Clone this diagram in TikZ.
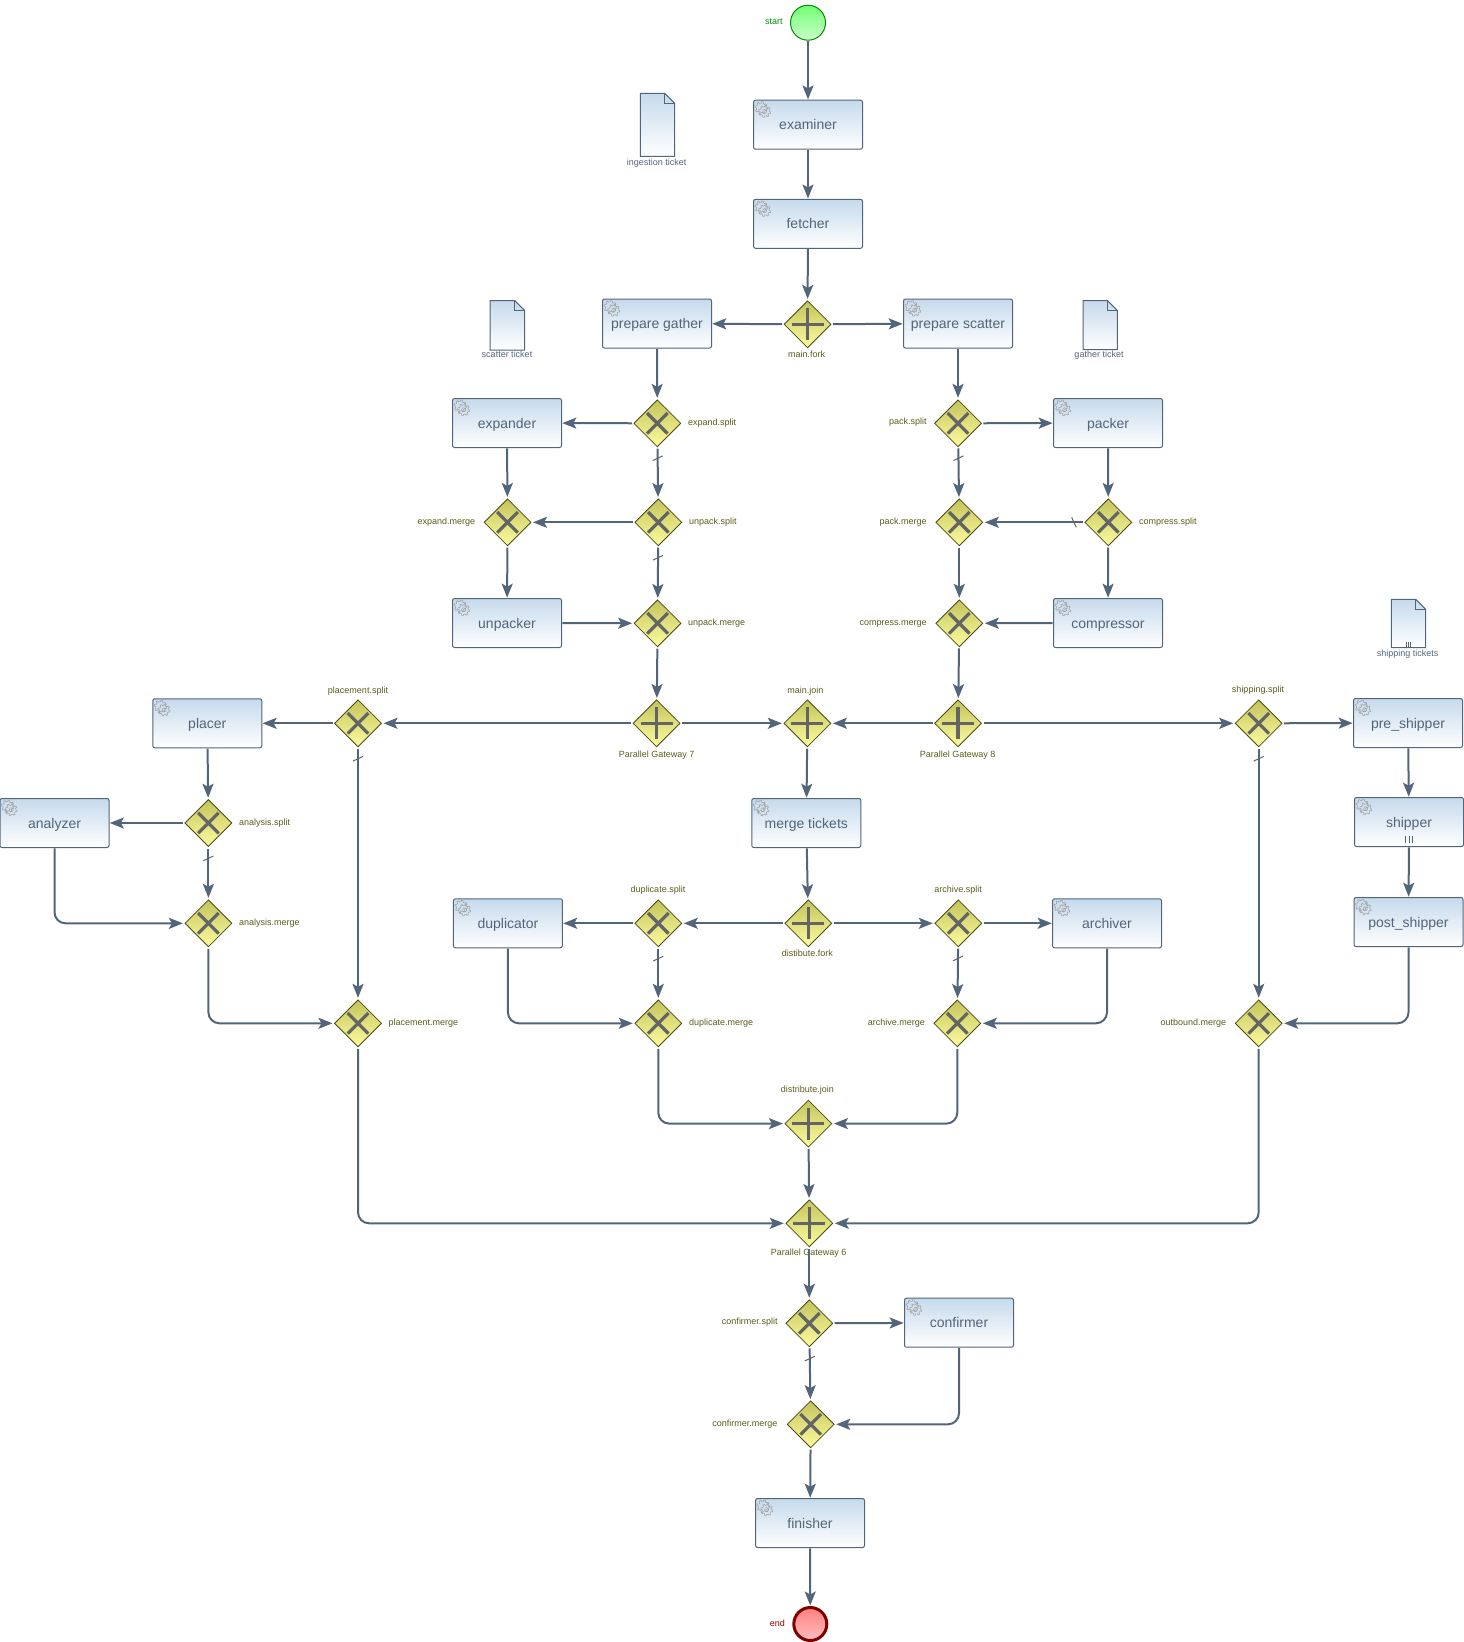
\documentclass[tikz,border=0pt]{standalone}
\usepackage{fontspec}
\setmainfont{Liberation Sans}
\usetikzlibrary{arrows.meta,shapes.geometric}
\definecolor{flowcol}{RGB}{82,101,122}
\definecolor{tasktop}{RGB}{198,218,236}
\definecolor{gatetop}{RGB}{196,196,92}
\definecolor{gatebot}{RGB}{252,252,160}
\definecolor{gateline}{RGB}{74,74,20}
\definecolor{gatemarkcol}{RGB}{100,100,100}
\definecolor{labelcol}{RGB}{92,92,28}
\tikzset{
  flow/.style={draw=flowcol,line width=2pt,rounded corners=11pt,-{Stealth[length=14pt,width=11pt,inset=3pt]}},
  tasknode/.style={rectangle,draw=flowcol,line width=1pt,rounded corners=2pt,top color=tasktop,bottom color=white,
    minimum width=109pt,minimum height=49pt,inner sep=0pt,outer sep=.8pt,text=flowcol,
    text height=10pt,text depth=0pt,font=\fontsize{14}{16}\selectfont},
  gateway/.style={diamond,aspect=1,draw=gateline,line width=.8pt,top color=gatetop,bottom color=gatebot,
    minimum size=48pt,inner sep=0pt,outer sep=1.5pt},
  xgate/.style={gateway,path picture={\draw[gatemarkcol,line width=3.2pt]
    (path picture bounding box.center) +(-10.3,-10.3) -- +(10.3,10.3) +(-10.3,10.3) -- +(10.3,-10.3);}},
  pgate/.style={gateway,path picture={\draw[gatemarkcol,line width=3.2pt]
    (path picture bounding box.center) +(-16,0) -- +(16,0) +(0,-16) -- +(0,16);}},
  gatelabel/.style={text=labelcol,inner sep=0pt,text height=6.4pt,text depth=0pt,font=\fontsize{9}{10}\selectfont},
  doclabel/.style={text=flowcol,inner sep=0pt,text height=6.4pt,text depth=0pt,font=\fontsize{9}{10}\selectfont},
  docshape/.style={draw=flowcol,line width=1pt,top color=tasktop,bottom color=white},
  deftick/.style={-,sharp corners,draw=gatemarkcol,line width=1pt,minimum width=11pt,minimum height=0pt,inner sep=0pt,outer sep=0pt,rotate=25},
  gearline/.style={draw=gray!75,line width=.5pt},
  startnode/.style={circle,draw=green!55!black,line width=1pt,top color=green!55!white,bottom color=green!20!white,
    minimum size=35pt,inner sep=0pt,outer sep=1pt},
  endnode/.style={circle,draw=red!50!black,line width=3pt,top color=red!50!white,bottom color=red!25!white,
    minimum size=33pt,inner sep=0pt,outer sep=2pt},
  gearicon/.pic={
    \draw[gearline] plot[domain=0:360,samples=73] ({-2+(4.8+1.4*(sin(8*\x)>0))*cos(\x)},{-2+(4.8+1.4*(sin(8*\x)>0))*sin(\x)});
    \draw[gearline] plot[domain=0:360,samples=73] ({1.5+(4.6+1.4*(sin(8*\x)>0))*cos(\x)},{1.5+(4.6+1.4*(sin(8*\x)>0))*sin(\x)});
    \draw[gearline] (1.5,1.5) circle (2);
  }
}
\newcommand{\gearat}[1]{\pic at ([shift={(10.5,10.5)}]#1.north west) {gearicon};}
\begin{document}
\begin{tikzpicture}[x=1pt,y=-1pt]
\useasboundingbox (0,0) rectangle (1464,1642);

\node[startnode] (start) at (808,22.7) {};
\node[endnode] (end) at (810.3,1624) {};
\node[gatelabel,text=green!55!black,anchor=east] (startlabel) at (782.7,21.7) {start};
\node[gatelabel,text=red!60!black,anchor=east] (endlabel) at (785,1623.7) {end};

\node[tasknode] (examiner) at (808,124.7) {examiner};
\node[tasknode] (fetcher) at (808,223.8) {fetcher};
\node[tasknode] (prepgather) at (657,323.5) {prepare gather};
\node[tasknode] (prepscatter) at (958,323.5) {prepare scatter};
\node[tasknode] (expander) at (507,423) {expander};
\node[tasknode] (packer) at (1108,423) {packer};
\node[tasknode] (unpacker) at (507,623) {unpacker};
\node[tasknode] (compressor) at (1108,623) {compressor};
\node[tasknode] (placer) at (207.3,723.3) {placer};
\node[tasknode] (analyzer) at (54.5,823) {analyzer};
\node[tasknode] (mergetickets) at (806.3,823) {merge tickets};
\node[tasknode] (duplicator) at (507.9,923.3) {duplicator};
\node[tasknode] (archiver) at (1107,923.3) {archiver};
\node[tasknode] (preshipper) at (1408,723) {pre\_shipper};
\node[tasknode] (shipper) at (1409,822) {shipper};
\node[tasknode] (postshipper) at (1408.5,922) {post\_shipper};
\node[tasknode] (confirmer) at (959,1322.7) {confirmer};
\node[tasknode] (finisher) at (810,1523) {finisher};

\gearat{examiner}
\gearat{fetcher}
\gearat{prepgather}
\gearat{prepscatter}
\gearat{expander}
\gearat{packer}
\gearat{unpacker}
\gearat{compressor}
\gearat{placer}
\gearat{analyzer}
\gearat{mergetickets}
\gearat{duplicator}
\gearat{archiver}
\gearat{preshipper}
\gearat{shipper}
\gearat{postshipper}
\gearat{confirmer}
\gearat{finisher}

\draw[flowcol,line width=.7pt] (1405.7,836) -- (1405.7,843.3) (1409,836) -- (1409,843.3) (1412.3,836) -- (1412.3,843.3);

\node[pgate] (mainfork) at (807.5,324.3) {};
\node[xgate] (expandsplit) at (657.3,423.3) {};
\node[xgate] (packsplit) at (958,423.3) {};
\node[xgate] (unpacksplit) at (658.3,522.3) {};
\node[xgate] (expandmerge) at (507.5,522.3) {};
\node[xgate] (packmerge) at (959.3,522.3) {};
\node[xgate] (compresssplit) at (1108.3,522.3) {};
\node[xgate] (unpackmerge) at (657.6,623.3) {};
\node[xgate] (compressmerge) at (959.3,623.3) {};
\node[pgate] (gateseven) at (656.6,723.3) {};
\node[pgate] (mainjoin) at (807.4,723.3) {};
\node[pgate] (gateeight) at (958,723.3) {};
\node[xgate] (placementsplit) at (358,723.3) {};
\node[xgate] (shippingsplit) at (1258.7,723.3) {};
\node[xgate] (analysissplit) at (208.4,823) {};
\node[xgate] (analysismerge) at (208.4,923.3) {};
\node[xgate] (duplicatesplit) at (658.3,923.3) {};
\node[pgate] (distfork) at (808.3,923.3) {};
\node[xgate] (archivesplit) at (958.3,923.3) {};
\node[xgate] (placementmerge) at (358,1023.3) {};
\node[xgate] (duplicatemerge) at (658.3,1023.3) {};
\node[xgate] (archivemerge) at (957.3,1023.3) {};
\node[xgate] (outboundmerge) at (1258.7,1023.3) {};
\node[pgate] (distjoin) at (808.4,1123.6) {};
\node[pgate] (gatesix) at (809.3,1223.3) {};
\node[xgate] (confirmersplit) at (809.3,1323.3) {};
\node[xgate] (confirmermerge) at (810.7,1424.3) {};

\node[gatelabel] (mainforklabel) at (806.7,354.5) {main.fork};
\node[gatelabel,anchor=west] (expandsplitlabel) at (688,422) {expand.split};
\node[gatelabel,anchor=east] (packsplitlabel) at (926.8,421.7) {pack.split};
\node[gatelabel,anchor=west] (unpacksplitlabel) at (689,521) {unpack.split};
\node[gatelabel,anchor=east] (expandmergelabel) at (475.4,521) {expand.merge};
\node[gatelabel,anchor=east] (packmergelabel) at (926.8,521) {pack.merge};
\node[gatelabel,anchor=west] (compresssplitlabel) at (1139,521) {compress.split};
\node[gatelabel,anchor=west] (unpackmergelabel) at (688,622) {unpack.merge};
\node[gatelabel,anchor=east] (compressmergelabel) at (926.8,622) {compress.merge};
\node[gatelabel] (placementsplitlabel) at (358,690) {placement.split};
\node[gatelabel] (mainjoinlabel) at (805.3,690) {main.join};
\node[gatelabel] (shippingsplitlabel) at (1258,689) {shipping.split};
\node[gatelabel] (gatesevenlabel) at (656.6,754) {Parallel Gateway 7};
\node[gatelabel] (gateeightlabel) at (957.7,754) {Parallel Gateway 8};
\node[gatelabel,anchor=west] (analysissplitlabel) at (238.8,822) {analysis.split};
\node[gatelabel,anchor=west] (analysismergelabel) at (238.8,922.6) {analysis.merge};
\node[gatelabel] (duplicatesplitlabel) at (658,889) {duplicate.split};
\node[gatelabel] (archivesplitlabel) at (958,889) {archive.split};
\node[gatelabel] (distforklabel) at (807.4,953) {distibute.fork};
\node[gatelabel,anchor=west] (placementmergelabel) at (388.5,1022) {placement.merge};
\node[gatelabel,anchor=west] (duplicatemergelabel) at (689,1022) {duplicate.merge};
\node[gatelabel,anchor=east] (archivemergelabel) at (925,1022) {archive.merge};
\node[gatelabel,anchor=east] (outboundmergelabel) at (1226.3,1022) {outbound.merge};
\node[gatelabel] (distjoinlabel) at (807.4,1089) {distribute.join};
\node[gatelabel] (gatesixlabel) at (808.7,1252.7) {Parallel Gateway 6};
\node[gatelabel,anchor=east] (confirmersplitlabel) at (777.7,1321.7) {confirmer.split};
\node[gatelabel,anchor=east] (confirmermergelabel) at (777.7,1423) {confirmer.merge};

\draw[docshape] (640.3,93.3) -- (664.7,93.3) -- (674.7,103.3) -- (674.7,156.3) -- (640.3,156.3) -- cycle;
\draw[flowcol,line width=.7pt] (664.7,93.3) -- (664.7,103.3) -- (674.7,103.3);
\draw[docshape] (490,300.5) -- (514.6,300.5) -- (524.6,310.5) -- (524.6,350) -- (490,350) -- cycle;
\draw[flowcol,line width=.7pt] (514.6,300.5) -- (514.6,310.5) -- (524.6,310.5);
\draw[docshape] (1083,300.5) -- (1107.4,300.5) -- (1117.4,310.5) -- (1117.4,349.5) -- (1083,349.5) -- cycle;
\draw[flowcol,line width=.7pt] (1107.4,300.5) -- (1107.4,310.5) -- (1117.4,310.5);
\draw[docshape] (1391.3,599.3) -- (1415.7,599.3) -- (1425.7,609.3) -- (1425.7,647.7) -- (1391.3,647.7) -- cycle;
\draw[flowcol,line width=.7pt] (1415.7,599.3) -- (1415.7,609.3) -- (1425.7,609.3);
\draw[flowcol,line width=.6pt] (1406,641.7) -- (1406,647.3) (1408.3,641.7) -- (1408.3,647.3) (1410.6,641.7) -- (1410.6,647.3);

\node[doclabel] (ingestlabel) at (656.6,162) {ingestion ticket};
\node[doclabel] (scatterlabel) at (507,354) {scatter ticket};
\node[doclabel] (gatherlabel) at (1099,354) {gather ticket};
\node[doclabel] (shippinglabel) at (1407.7,653) {shipping tickets};

\draw[flow] (start)--(examiner);
\draw[flow] (examiner)--(fetcher);
\draw[flow] (fetcher)--(mainfork);
\draw[flow] (mainfork)--(prepgather);
\draw[flow] (mainfork)--(prepscatter);

\draw[flow] (prepgather)--(expandsplit);
\draw[flow] (expandsplit)--(expander);
\draw[flow] (expandsplit)-- node[deftick,pos=.2] (tickexpand) {} (unpacksplit);
\draw[flow] (expander)--(expandmerge);
\draw[flow] (unpacksplit)--(expandmerge);
\draw[flow] (expandmerge)--(unpacker);
\draw[flow] (unpacksplit)-- node[deftick,pos=.2] (tickunpack) {} (unpackmerge);
\draw[flow] (unpacker)--(unpackmerge);
\draw[flow] (unpackmerge)--(gateseven);

\draw[flow] (prepscatter)--(packsplit);
\draw[flow] (packsplit)--(packer);
\draw[flow] (packsplit)-- node[deftick,pos=.2] (tickpack) {} (packmerge);
\draw[flow] (packer)--(compresssplit);
\draw[flow] (compresssplit)-- node[deftick,rotate=-90,pos=.09] (tickcompress) {} (packmerge);
\draw[flow] (compresssplit)--(compressor);
\draw[flow] (packmerge)--(compressmerge);
\draw[flow] (compressor)--(compressmerge);
\draw[flow] (compressmerge)--(gateeight);

\draw[flow] (gateseven)--(placementsplit);
\draw[flow] (gateseven)--(mainjoin);
\draw[flow] (gateeight)--(mainjoin);
\draw[flow] (gateeight)--(shippingsplit);

\draw[flow] (placementsplit)--(placer);
\draw[flow] (placementsplit)-- node[deftick,pos=.04] (tickplacement) {} (placementmerge);
\draw[flow] (placer)--(analysissplit);
\draw[flow] (analysissplit)--(analyzer);
\draw[flow] (analysissplit)-- node[deftick,pos=.2] (tickanalysis) {} (analysismerge);
\draw[flow] (analyzer) |- (analysismerge);
\draw[flow] (analysismerge) |- (placementmerge);

\draw[flow] (mainjoin)--(mergetickets);
\draw[flow] (mergetickets)--(distfork);
\draw[flow] (distfork)--(duplicatesplit);
\draw[flow] (distfork)--(archivesplit);
\draw[flow] (duplicatesplit)--(duplicator);
\draw[flow] (duplicatesplit)-- node[deftick,pos=.2] (tickduplicate) {} (duplicatemerge);
\draw[flow] (duplicator) |- (duplicatemerge);
\draw[flow] (archivesplit)--(archiver);
\draw[flow] (archivesplit)-- node[deftick,pos=.2] (tickarchive) {} (archivemerge);
\draw[flow] (archiver) |- (archivemerge);
\draw[flow] (duplicatemerge) |- (distjoin);
\draw[flow] (archivemerge) |- (distjoin);
\draw[flow] (distjoin)--(gatesix);

\draw[flow] (shippingsplit)--(preshipper);
\draw[flow] (shippingsplit)-- node[deftick,pos=.04] (tickshipping) {} (outboundmerge);
\draw[flow] (preshipper)--(shipper);
\draw[flow] (shipper)--(postshipper);
\draw[flow] (postshipper) |- (outboundmerge);
\draw[flow] (placementmerge) |- (gatesix);
\draw[flow] (outboundmerge) |- (gatesix);

\draw[flow] (gatesix)--(confirmersplit);
\draw[flow] (confirmersplit)--(confirmer);
\draw[flow] (confirmersplit)-- node[deftick,pos=.2] (tickconfirmer) {} (confirmermerge);
\draw[flow] (confirmer) |- (confirmermerge);
\draw[flow] (confirmermerge)--(finisher);
\draw[flow] (finisher)--(end);
\end{tikzpicture}
\end{document}
